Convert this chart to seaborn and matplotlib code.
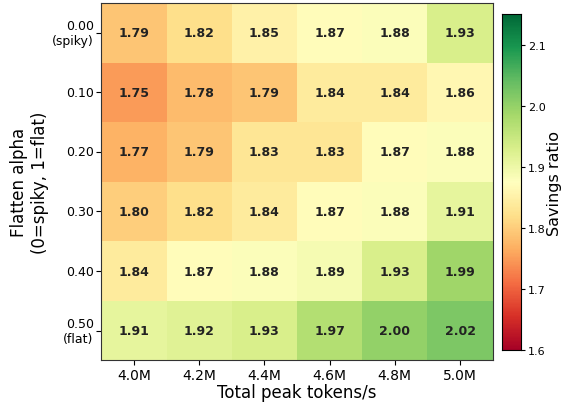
import numpy as np
import pandas as pd
import matplotlib
matplotlib.use("Agg")
import matplotlib.pyplot as plt
import seaborn as sns

# data
alphas = ["0.00\n(spiky)", "0.10", "0.20", "0.30", "0.40", "0.50\n(flat)"]
peaks = ["4.0M", "4.2M", "4.4M", "4.6M", "4.8M", "5.0M"]
row_000 = [1.79, 1.82, 1.85, 1.87, 1.88, 1.93]
row_010 = [1.75, 1.78, 1.79, 1.84, 1.84, 1.86]
row_020 = [1.77, 1.79, 1.83, 1.83, 1.87, 1.88]
row_030 = [1.80, 1.82, 1.84, 1.87, 1.88, 1.91]
row_040 = [1.84, 1.87, 1.88, 1.89, 1.93, 1.99]
row_050 = [1.91, 1.92, 1.93, 1.97, 2.00, 2.02]

df = pd.DataFrame([row_000, row_010, row_020, row_030, row_040, row_050],
                  index=alphas, columns=peaks)

fig = plt.figure(figsize=(5.63, 4.06), dpi=100)
ax = fig.add_axes([0.18, 0.11, 0.695, 0.88])
cax = fig.add_axes([0.892, 0.135, 0.034, 0.828])

sns.heatmap(df, ax=ax, cbar_ax=cax, cmap="RdYlGn", vmin=1.6, vmax=2.15,
            annot=True, fmt=".2f",
            annot_kws={"fontsize": 9, "fontweight": "bold", "color": "#222222"})

ax.set_xlabel("Total peak tokens/s", fontsize=12, labelpad=1)
ax.set_ylabel("Flatten alpha\n(0=spiky, 1=flat)", fontsize=12, labelpad=2)
ax.tick_params(axis="both", labelsize=10, length=3.5, pad=2)
ax.tick_params(axis="y", labelsize=9)
plt.setp(ax.get_yticklabels(), rotation=0)
plt.setp(ax.get_xticklabels(), rotation=0)
for s in ax.spines.values():
    s.set_visible(True)
    s.set_color("#333333")

cax.tick_params(labelsize=8, length=3, pad=2)
cax.set_ylabel("Savings ratio", fontsize=11.5, labelpad=1)
for s in cax.spines.values():
    s.set_visible(True)

plt.savefig("out.png", dpi=100)
plt.close()
